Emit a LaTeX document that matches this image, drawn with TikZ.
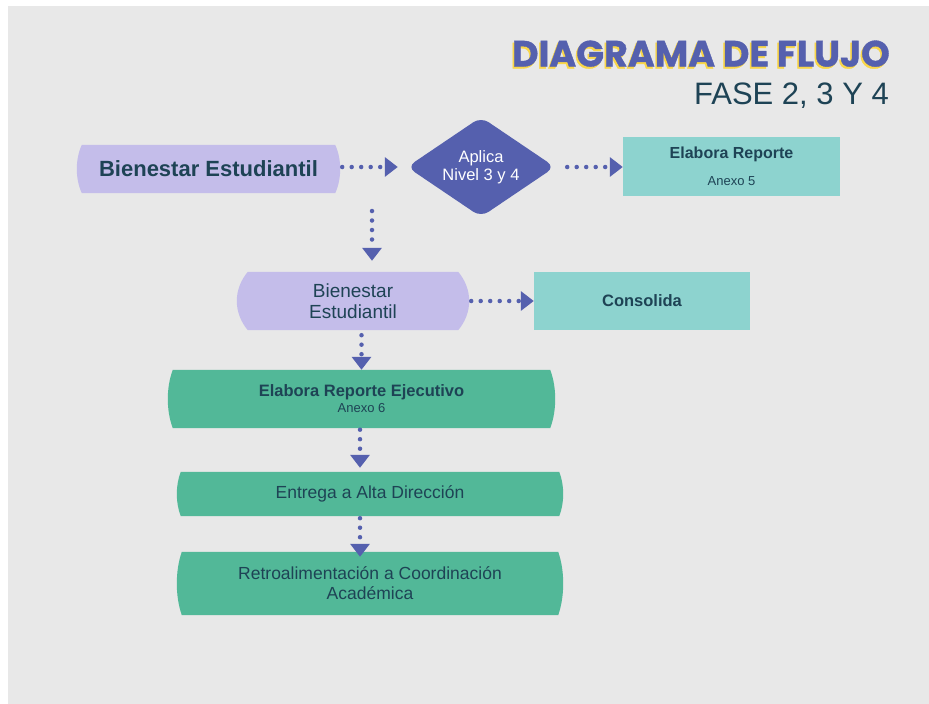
\documentclass[tikz,border=0pt]{standalone}
\usepackage{fontspec}
\setmainfont{Liberation Sans}
\newfontfamily\titlefont{Poppins}[BoldFeatures={FakeBold=1}]
\usetikzlibrary{shapes.geometric,arrows.meta,calc}
\definecolor{bggray}{HTML}{E8E8E8}
\definecolor{lav}{HTML}{C4BDEA}
\definecolor{pur}{HTML}{5560AE}
\definecolor{teal}{HTML}{8DD3CF}
\definecolor{grn}{HTML}{52B898}
\definecolor{ink}{HTML}{1E4355}
\definecolor{yel}{HTML}{F9D649}
\pgfdeclarelayer{bglayer}
\pgfdeclarelayer{shapes}
\pgfsetlayers{bglayer,shapes,main}
\newcommand\barrelfill[3]{%
  \fill[#3] (#1.north west) -- (#1.north east)
    .. controls ($(#1.north east)!0.3!(#1.south east)+(#2*1.333,0)$) and ($(#1.north east)!0.7!(#1.south east)+(#2*1.333,0)$) .. (#1.south east)
    -- (#1.south west)
    .. controls ($(#1.south west)!0.3!(#1.north west)+(-#2*1.333,0)$) and ($(#1.south west)!0.7!(#1.north west)+(-#2*1.333,0)$) .. (#1.north west) -- cycle;}
\newcommand\shadowtext[1]{\rlap{\kern-1.5pt\raisebox{-2pt}{\color{yel}#1}}#1}
\tikzset{
  box/.style={rectangle, inner sep=0pt, align=center, text=ink},
  barrel/.style={box},
  tealbox/.style={box, fill=teal},
  flow/.style={draw=pur, line width=4.5pt, line cap=round, dash pattern=on 0pt off 9.5pt,
    -{Triangle[length=13pt,width=19pt]}},
  regtext/.style={font=\fontsize{17.5}{20}\selectfont},
  boldtext/.style={font=\bfseries\fontsize{16.5}{19}\selectfont},
}
\begin{document}
\begin{tikzpicture}[x=1pt,y=-1pt]
\useasboundingbox (0,0) rectangle (929,704);
\begin{pgfonlayer}{bglayer}
\fill[bggray] (8,6) rectangle (929,704);
\end{pgfonlayer}

% title
\node[anchor=base east, inner sep=0pt, text=pur, font=\titlefont\bfseries\fontsize{36.5}{37}\selectfont] (title) at (890,66.5) {\shadowtext{DIAGRAMA DE FLUJO}};
\node[anchor=base east, inner sep=0pt, text=ink, font=\fontsize{31}{31}\selectfont] (subtitle) at (889,104) {FASE 2, 3 Y 4};

% nodes
\node[barrel, minimum width=253pt, minimum height=48pt, font=\bfseries\fontsize{22}{24}\selectfont] (be1) at (208.5,169) {Bienestar Estudiantil};
\node[diamond, aspect=1.48, minimum width=148pt, minimum height=100pt, inner sep=0pt, fill=pur, rounded corners=9pt, text=white, align=center, font=\fontsize{16.5}{18}\selectfont] (dia) at (481,167) {Aplica\\Nivel 3 y 4};
\node[tealbox, minimum width=217pt, minimum height=59pt, font=\fontsize{13}{27}\selectfont] (er) at (731.5,166.5) {{\bfseries\fontsize{16}{19}\selectfont Elabora Reporte}\\{\fontsize{13}{13}\selectfont Anexo 5}};
\node[barrel, minimum width=210pt, minimum height=58pt, font=\fontsize{19}{21}\selectfont] (be2) at (353,301) {Bienestar\\Estudiantil};
\node[tealbox, minimum width=216pt, minimum height=58pt, boldtext] (cons) at (642,301) {Consolida};
\node[barrel, minimum width=377pt, minimum height=58pt, font=\fontsize{13}{16}\selectfont] (g1) at (361.5,399) {{\bfseries\fontsize{16.5}{19}\selectfont Elabora Reporte Ejecutivo}\\{\fontsize{13}{13}\selectfont Anexo 6}};
\node[barrel, minimum width=378pt, minimum height=44pt, regtext] (g2) at (370,494) {Entrega a Alta Dirección};
\node[barrel, minimum width=376pt, minimum height=63pt, regtext] (g3) at (370,583.5) {Retroalimentación a Coordinación\\Académica};
\coordinate (split) at (372,211);

\begin{pgfonlayer}{shapes}
\barrelfill{be1}{5}{lav}
\barrelfill{be2}{11}{lav}
\barrelfill{g1}{5}{grn}
\barrelfill{g2}{4}{grn}
\barrelfill{g3}{5}{grn}
\end{pgfonlayer}

% connectors
\draw[flow, shorten <=7pt, shorten >=9pt] (be1.east |- dia.west) -- (dia.west);
\draw[flow, shorten <=12pt] (dia.east) -- (dia.east -| er.west);
\draw[flow, shorten >=11pt] (split) -- (split |- be2.north);
\draw[flow, shorten <=13pt] (be2.east) -- (be2.east -| cons.west);
\draw[flow, shorten <=5pt] (be2.south -| g1.north) -- (g1.north);
\draw[flow, shorten <=1.5pt, shorten >=4pt] (g1.south -| 360,0) -- (g2.north -| 360,0);
\draw[flow, shorten <=2pt, shorten >=-5pt] (g2.south -| 360,0) -- (g3.north -| 360,0);
\end{tikzpicture}
\end{document}
